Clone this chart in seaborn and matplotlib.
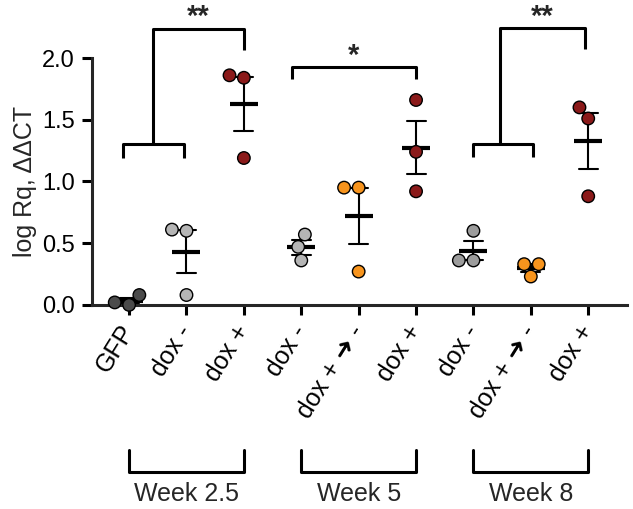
import matplotlib
matplotlib.use("Agg")
import matplotlib.pyplot as plt
import matplotlib.transforms as mtransforms
import numpy as np
import pandas as pd
import seaborn as sns

# groups in plot order
groups = ["gfp", "w25_neg", "w25_pos", "w5_neg", "w5_off", "w5_pos",
          "w8_neg", "w8_off", "w8_pos"]
tick_labels = ["GFP", "dox -", "dox +", "dox -", "dox + \u279c -", "dox +",
               "dox -", "dox + \u279c -", "dox +"]

# log Rq values (3 per group)
gfp = [0.08, 0.00, 0.02]
w25_neg = [0.61, 0.60, 0.08]
w25_pos = [1.86, 1.84, 1.19]
w5_neg = [0.57, 0.47, 0.36]
w5_off = [0.95, 0.95, 0.27]
w5_pos = [1.66, 1.24, 0.92]
w8_neg = [0.60, 0.36, 0.36]
w8_off = [0.33, 0.33, 0.23]
w8_pos = [1.60, 1.51, 0.88]

colors = {"gfp": "#4b4b4b", "w25_neg": "#b5b5b5", "w25_pos": "#8b1a1a",
          "w5_neg": "#b5b5b5", "w5_off": "#f7941d", "w5_pos": "#8b1a1a",
          "w8_neg": "#9c9c9c", "w8_off": "#f7941d", "w8_pos": "#8b1a1a"}

weeks = ["Week 2.5", "Week 5", "Week 8"]
week_spans = [(0, 2), (3, 5), (6, 8)]

# significance brackets
# paired: (left leg x, right leg x, joint x, far x, low y, leg y, top y, far leg y, label)
sig_paired = [(-0.1, 0.95, 0.41, 2.0, 1.30, 1.19, 2.235, 2.065, "**"),
              (5.99, 7.03, 6.47, 7.94, 1.30, 1.20, 2.24, 2.07, "**")]
sig_simple = [(2.83, 5.0, 1.93, 1.83, "*")]

values = [gfp, w25_neg, w25_pos, w5_neg, w5_off, w5_pos, w8_neg, w8_off, w8_pos]
df = pd.DataFrame({
    "group": np.repeat(groups, 3),
    "value": np.concatenate(values),
})

sns.set_style("ticks")
plt.rcParams["font.family"] = ["Liberation Sans", "DejaVu Sans"]

fig = plt.figure(figsize=(6.33, 5.09), dpi=100)
ax = fig.add_axes([0.145, 0.401, 0.845, 0.485])

sns.pointplot(data=df, x="group", y="value", order=groups, errorbar="se",
              color="black", markers="_", linestyles="none", markersize=20,
              markeredgewidth=3, capsize=0.33, err_kws={"linewidth": 1.5},
              ax=ax)
sns.swarmplot(data=df, x="group", y="value", order=groups, hue="group",
              palette=colors, size=9, edgecolor="black", linewidth=1,
              legend=False, ax=ax, zorder=5)
for c in ax.collections:
    c.set_clip_on(False)
for l in ax.lines:
    l.set_clip_on(False)

ax.set_xlim(-0.65, 8.67)
ax.set_ylim(0, 2.0)
ax.set_yticks([0, 0.5, 1.0, 1.5, 2.0])
ax.set_yticklabels(["0.0", "0.5", "1.0", "1.5", "2.0"], fontsize=17)
ax.set_xticks(range(len(groups)))
ax.set_xticklabels(tick_labels, fontsize=18, rotation=58, ha="right",
                   va="center", rotation_mode="anchor")
ax.set_xlabel("")
ax.set_ylabel("log Rq, \u0394\u0394CT", fontsize=18, labelpad=4)
sns.despine(ax=ax)
for side in ["left", "bottom"]:
    ax.spines[side].set_linewidth(2.2)
ax.tick_params(axis="both", width=2.2, length=7, color="black",
               labelcolor="black")
ax.tick_params(axis="x", pad=9)
ax.tick_params(axis="y", pad=5)

lw = 2.2
for x0, x1, xm, xr, ylow, yleg, ytop, yr, lab in sig_paired:
    ax.plot([x0, x0, x1, x1], [yleg, ylow, ylow, yleg], color="black",
            lw=lw, clip_on=False, solid_capstyle="butt")
    ax.plot([xm, xm, xr, xr], [ylow, ytop, ytop, yr], color="black",
            lw=lw, clip_on=False, solid_capstyle="butt")
    ax.text((xm + xr) / 2, ytop + 0.03, lab, ha="center", va="baseline",
            fontsize=21, fontweight="bold")
for x0, x1, ytop, yleg, lab in sig_simple:
    ax.plot([x0, x0, x1, x1], [yleg, ytop, ytop, yleg], color="black",
            lw=lw, clip_on=False, solid_capstyle="butt")
    ax.text((x0 + x1) / 2, ytop + 0.02, lab, ha="center", va="baseline",
            fontsize=21, fontweight="bold")

trans = mtransforms.blended_transform_factory(ax.transData, ax.transAxes)
for (a, b), name in zip(week_spans, weeks):
    ax.plot([a, a, b, b], [-0.587, -0.676, -0.676, -0.587], color="black",
            lw=lw, transform=trans, clip_on=False)
    ax.text((a + b) / 2, -0.768, name, transform=trans, ha="center",
            va="center", fontsize=18)

fig.savefig("out.png", dpi=100)
